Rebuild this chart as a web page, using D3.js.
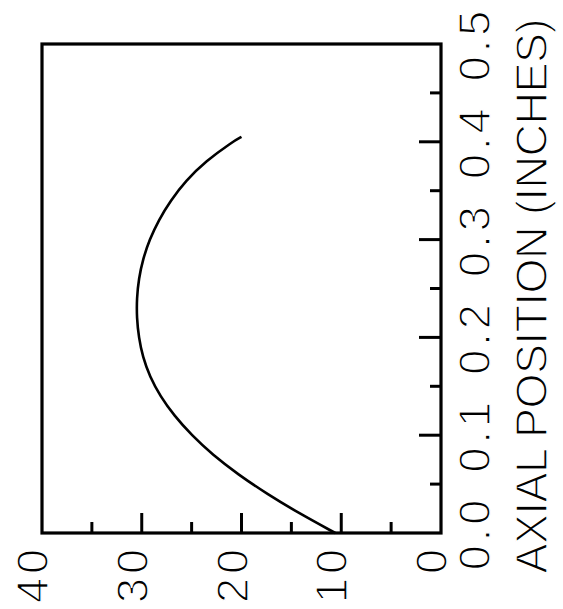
<!DOCTYPE html>
<html>
<head>
<meta charset="utf-8">
<script src="https://cdn.jsdelivr.net/npm/d3@7"></script>
<style>
  html, body { margin: 0; padding: 0; background: #fff; }
  svg text {
    font-family: "Liberation Sans", Arial, sans-serif;
    fill: #000;
    stroke: #fff;
    stroke-width: 1.4px;
  }
</style>
</head>
<body>
<svg id="chart" width="563" height="609"></svg>
<script>
// axial position (inches) along the curve
const axial = [0.0, 0.02, 0.04, 0.06, 0.08, 0.10, 0.12, 0.14, 0.16, 0.18, 0.20,
               0.22, 0.24, 0.26, 0.28, 0.30, 0.32, 0.34, 0.36, 0.38, 0.40, 0.405]
// plotted quantity at each axial position
const values = [10.6, 14.2, 17.45, 20.35, 22.9, 25.0, 26.75, 28.15, 29.2, 29.9, 30.3,
                30.5, 30.5, 30.3, 29.88, 29.22, 28.3, 27.1, 25.6, 23.6, 20.9, 20.0]

const valueTicks = [40, 30, 20, 10, 0]
const valueMinor = [35, 25, 15, 5]
const axialTicks = [0.0, 0.1, 0.2, 0.3, 0.4, 0.5]
const axialMinor = [0.05, 0.15, 0.25, 0.35, 0.45]
const axialTitle = 'AXIAL POSITION (INCHES)'

const pLeft = 42, pRight = 441, pTop = 44, pBottom = 533

const svg = d3.select('#chart')

const x = d3.scaleLinear().domain([40, 0]).range([pLeft, pRight])
const y = d3.scaleLinear().domain([0, 0.5]).range([pBottom, pTop])

// frame
svg.append('rect')
    .attr('x', pLeft).attr('y', pTop)
    .attr('width', pRight - pLeft).attr('height', pBottom - pTop)
    .attr('fill', 'none').attr('stroke', '#000').attr('stroke-width', 3.2)

// ticks on the bottom edge, pointing inwards
const inner = valueTicks.filter(d => d > 0 && d < 40)
svg.append('g').selectAll('line.major')
    .data(inner).enter().append('line')
    .attr('x1', d => x(d)).attr('x2', d => x(d))
    .attr('y1', pBottom).attr('y2', pBottom - 20)
    .attr('stroke', '#000').attr('stroke-width', 3)
svg.append('g').selectAll('line.minor')
    .data(valueMinor).enter().append('line')
    .attr('x1', d => x(d)).attr('x2', d => x(d))
    .attr('y1', pBottom).attr('y2', pBottom - 11)
    .attr('stroke', '#000').attr('stroke-width', 3)

// ticks on the right edge, pointing inwards
svg.append('g').selectAll('line.major')
    .data(axialTicks.filter(d => d > 0 && d < 0.5)).enter().append('line')
    .attr('x1', pRight).attr('x2', pRight - 22)
    .attr('y1', d => y(d)).attr('y2', d => y(d))
    .attr('stroke', '#000').attr('stroke-width', 3)
svg.append('g').selectAll('line.minor')
    .data(axialMinor).enter().append('line')
    .attr('x1', pRight).attr('x2', pRight - 11)
    .attr('y1', d => y(d)).attr('y2', d => y(d))
    .attr('stroke', '#000').attr('stroke-width', 3)

// bottom tick labels, rotated (sit a little left of their ticks)
svg.append('g').selectAll('text')
    .data(valueTicks).enter().append('text')
    .attr('transform', d => `translate(${x(d)},545) rotate(-90)`)
    .attr('text-anchor', 'end')
    .attr('dy', 6)
    .attr('font-size', 45)
    .attr('letter-spacing', 4)
    .text(d => d)

// right tick labels, rotated
svg.append('g').selectAll('text')
    .data(axialTicks).enter().append('text')
    .attr('transform', d => `translate(490,${y(d)}) rotate(-90)`)
    .attr('text-anchor', 'middle')
    .attr('font-size', 45)
    .attr('letter-spacing', 4)
    .text(d => d.toFixed(1))

svg.append('text')
    .attr('transform', 'translate(547,296) rotate(-90)')
    .attr('text-anchor', 'middle')
    .attr('font-size', 45)
    .attr('textLength', 555)
    .attr('lengthAdjust', 'spacing')
    .text(axialTitle)

// the curve
const pts = axial.map((a, i) => [values[i], a])
const line = d3.line()
    .x(d => x(d[0]))
    .y(d => y(d[1]))
    .curve(d3.curveBasis)

svg.append('path')
    .attr('d', line(pts))
    .attr('fill', 'none')
    .attr('stroke', '#000')
    .attr('stroke-width', 2.6)
</script>
</body>
</html>
